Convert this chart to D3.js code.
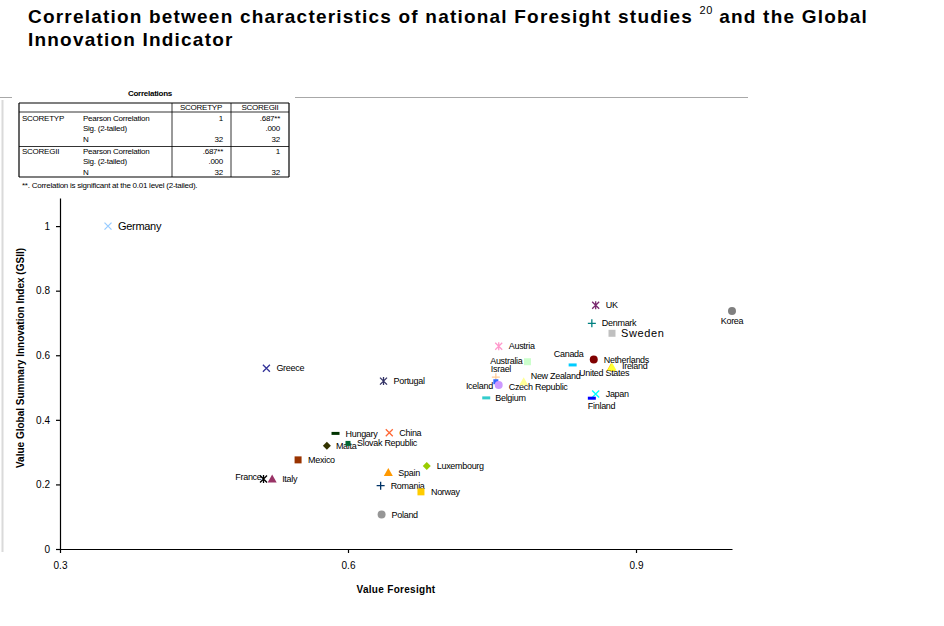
<!DOCTYPE html>
<html>
<head>
<meta charset="utf-8">
<script src="https://cdn.jsdelivr.net/npm/d3@7"></script>
<style>
    body { margin: 0; background: #fff; }
    svg { display: block; font-family: "Liberation Sans", Arial, sans-serif; }
    .axis path, .axis line { stroke: #000; stroke-width: 1.2; }
    .axis text { font-size: 10px; fill: #000; }
    .label { font-size: 9px; fill: #000; letter-spacing: -0.3px; }
    .tbl { font-size: 8px; fill: #000; letter-spacing: -0.25px; }
</style>
</head>
<body>
<div id="chart"></div>
<script>
// ------------------------------------------
//  Data
// ------------------------------------------
const countries = ["Germany", "Greece", "Portugal", "UK", "Korea", "Denmark", "Sweden", "Austria",
    "Australia", "Canada", "Netherlands", "United States", "Ireland", "Israel", "Iceland", "Czech Republic",
    "New Zealand", "Belgium", "Japan", "Finland", "Hungary", "China", "Malta", "Slovak Republic",
    "Mexico", "France", "Italy", "Spain", "Luxembourg", "Romania", "Norway", "Poland"]
const foresight = [0.350, 0.515, 0.637, 0.858, 1.000, 0.854, 0.875, 0.757,
    0.787, 0.834, 0.856, 0.874, 0.875, 0.754, 0.754, 0.757,
    0.783, 0.744, 0.858, 0.854, 0.587, 0.643, 0.578, 0.600,
    0.548, 0.512, 0.521, 0.642, 0.682, 0.634, 0.676, 0.635]
const gsii = [1.000, 0.560, 0.520, 0.755, 0.737, 0.699, 0.668, 0.628,
    0.580, 0.570, 0.587, 0.562, 0.564, 0.532, 0.518, 0.508,
    0.518, 0.468, 0.480, 0.467, 0.358, 0.360, 0.320, 0.327,
    0.276, 0.217, 0.217, 0.237, 0.257, 0.196, 0.177, 0.107]

const xTicks = [0.3, 0.6, 0.9]
const xTickLabels = ["0.3", "0.6", "0.9"]
const yTicks = [0, 0.2, 0.4, 0.6, 0.8, 1]
const yTickLabels = ["0", "0.2", "0.4", "0.6", "0.8", "1"]

// SPSS correlation table
const tableCols = ["SCORETYP", "SCOREGII"]
const tableVars = ["SCORETYP", "SCOREGII"]
const tableStats = ["Pearson Correlation", "Sig. (2-tailed)", "N"]
const tableValues = [
    [["1", ".687**"], ["", ".000"], ["32", "32"]],
    [[".687**", "1"], [".000", ""], ["32", "32"]]
]

// ------------------------------------------
//  Styles (marker look + label placement)
// ------------------------------------------
const markerStyle = {
    "Germany": ["x", "#99ccff"], "Greece": ["x", "#333399"], "Portugal": ["star", "#333366"],
    "UK": ["star", "#7a2a6f"], "Korea": ["circle", "#808080"], "Denmark": ["plus", "#008080"],
    "Sweden": ["square", "#c0c0c0"], "Austria": ["star", "#ff99cc"], "Australia": ["square", "#ccffcc"],
    "Canada": ["dash", "#00ccff"], "Netherlands": ["circle", "#800000"], "United States": ["triangle", "#ffcc00"],
    "Ireland": ["triangle", "#ffff33"], "Israel": ["plus", "#ffcc99"], "Iceland": ["small", "#3366ff"],
    "Czech Republic": ["circle", "#cc99ff"], "New Zealand": ["triangle", "#ffff99"], "Belgium": ["dash", "#33cccc"],
    "Japan": ["x", "#00ffff"], "Finland": ["dash", "#0000ff"], "Hungary": ["dash", "#003300"],
    "China": ["x", "#ff6633"], "Malta": ["diamond", "#333300"], "Slovak Republic": ["small", "#006633"],
    "Mexico": ["square", "#993300"], "France": ["star", "#000000"], "Italy": ["triangle", "#993366"],
    "Spain": ["triangle", "#ff9900"], "Luxembourg": ["diamond", "#99cc00"], "Romania": ["plus", "#003366"],
    "Norway": ["square", "#ffcc00"], "Poland": ["circle", "#969696"]
}
// [dx, dy, anchor, fontSize]
const labelPlacement = {
    "Germany": [10, 0, "start", 11], "Sweden": [9, 0, "start", 11], "Korea": [0, 10, "middle"],
    "Australia": [-5, -1, "end"], "Canada": [-4, -11, "middle"], "Israel": [-5, -8, "start"],
    "Iceland": [-3, 4, "end"], "Czech Republic": [10, 2, "start"], "New Zealand": [7, -6, "start"],
    "Finland": [-4, 7.5, "start"], "United States": [-32, 5, "start"], "Slovak Republic": [9, -1, "start"],
    "France": [-2, -2, "end"], "Belgium": [9, 0, "start"], "Malta": [9, 0, "start"], "Ireland": [10, -1, "start"]
}

function markerPath(type) {
    switch (type) {
        case "x": return "M-3.5,-3.5L3.5,3.5M-3.5,3.5L3.5,-3.5"
        case "star": return "M-3.5,-3.5L3.5,3.5M-3.5,3.5L3.5,-3.5M0,-4L0,4"
        case "plus": return "M-4,0L4,0M0,-4L0,4"
        case "square": return "M-3.5,-3.5h7v7h-7z"
        case "small": return "M-2.5,-2.5h5v5h-5z"
        case "dash": return "M-4,-1.5h8v3h-8z"
        case "diamond": return "M0,-4L4,0L0,4L-4,0z"
        case "triangle": return "M0,-4.5L4.5,3.5L-4.5,3.5z"
        default: return d3.symbol(d3.symbolCircle, 50)()
    }
}

// ------------------------------------------
//  Chart
// ------------------------------------------
function drawChart() {
    const svg = d3.select("#chart").append("svg").attr("width", 944).attr("height", 626)

    // title
    const title = svg.append("text").attr("x", 28).attr("y", 23)
        .attr("font-size", 19).attr("font-weight", "bold").attr("letter-spacing", 1.2)
    title.append("tspan").text("Correlation between characteristics of national Foresight studies ")
    title.append("tspan").attr("font-size", 11).attr("dy", -9).attr("font-weight", "normal").attr("letter-spacing", 0.5).text("20")
    title.append("tspan").attr("dy", 9).text(" and the Global")
    svg.append("text").attr("x", 28).attr("y", 46)
        .attr("font-size", 19).attr("font-weight", "bold").attr("letter-spacing", 1.2)
        .text("Innovation Indicator")

    // frame of the pasted output
    svg.append("line").attr("x1", 295).attr("x2", 748).attr("y1", 97.5).attr("y2", 97.5).attr("stroke", "#a8a8a8")
    svg.append("line").attr("x1", 0).attr("x2", 12).attr("y1", 97.5).attr("y2", 97.5).attr("stroke", "#a8a8a8")
    svg.append("line").attr("x1", 2.5).attr("x2", 2.5).attr("y1", 100).attr("y2", 552).attr("stroke", "#dadada").attr("stroke-width", 2)

    drawTable(svg)

    const x = d3.scaleLinear().domain([0.3, 1.0]).range([60, 732])
    const y = d3.scaleLinear().domain([0, 1.087]).range([549, 198])

    svg.append("g").attr("class", "axis")
        .attr("transform", `translate(0,${y(0)})`)
        .call(d3.axisBottom(x).tickValues(xTicks).tickSize(4).tickSizeOuter(0).tickPadding(9)
            .tickFormat((d, i) => xTickLabels[i]))
    svg.append("g").attr("class", "axis")
        .attr("transform", `translate(${x(0.3)},0)`)
        .call(d3.axisLeft(y).tickValues(yTicks).tickSize(4).tickSizeOuter(0).tickPadding(6)
            .tickFormat((d, i) => yTickLabels[i]))
    svg.selectAll(".axis .domain").attr("stroke-width", 1.4)

    svg.append("text").attr("x", 396).attr("y", 593).attr("text-anchor", "middle")
        .attr("font-size", 10).attr("font-weight", "bold").attr("letter-spacing", 0.3)
        .text("Value Foresight")
    svg.append("text").attr("transform", "translate(24,358) rotate(-90)").attr("text-anchor", "middle")
        .attr("font-size", 10).attr("font-weight", "bold")
        .text("Value Global Summary Innovation Index (GSII)")

    const points = countries.map((c, i) => ({ name: c, fx: foresight[i], gi: gsii[i] }))

    const pt = svg.selectAll(".point").data(points).enter().append("g")
        .attr("class", "point")
        .attr("transform", d => `translate(${x(d.fx)},${y(d.gi)})`)

    pt.append("path")
        .attr("d", d => markerPath(markerStyle[d.name][0]))
        .attr("fill", d => ["x", "star", "plus"].includes(markerStyle[d.name][0]) ? "none" : markerStyle[d.name][1])
        .attr("stroke", d => ["x", "star", "plus"].includes(markerStyle[d.name][0]) ? markerStyle[d.name][1] : "none")
        .attr("stroke-width", 1.3)

    pt.append("text")
        .attr("class", "label")
        .attr("x", d => (labelPlacement[d.name] || [10])[0])
        .attr("y", d => (labelPlacement[d.name] || [10, 0])[1])
        .attr("dy", "0.35em")
        .attr("text-anchor", d => (labelPlacement[d.name] || [10, 0, "start"])[2])
        .style("font-size", d => ((labelPlacement[d.name] || [])[3] || 9) + "px")
        .style("letter-spacing", d => d.name === "Sweden" ? "0.6px" : null)
        .text(d => d.name)
}

function drawTable(svg) {
    const g = svg.append("g")
    g.append("text").attr("class", "tbl").attr("x", 150).attr("y", 95.5).attr("text-anchor", "middle")
        .attr("font-weight", "bold").text("Correlations")

    const left = 19, right = 289, c1 = 172, c2 = 231
    const top = 103, head = 112, mid = 146.5, bottom = 177
    const line = (x1, y1, x2, y2, w) => g.append("line").attr("x1", x1).attr("y1", y1).attr("x2", x2).attr("y2", y2)
        .attr("stroke", "#000").attr("stroke-width", w || 0.8)
    line(left, top, right, top, 1.2)
    line(left, head, right, head)
    line(left, mid, right, mid)
    line(left, bottom, right, bottom, 1.2)
    line(left, top, left, bottom, 1.2)
    line(right, top, right, bottom, 1.2)
    line(c1, top, c1, bottom)
    line(c2, top, c2, bottom)

    tableCols.forEach((c, i) => {
        g.append("text").attr("class", "tbl").attr("x", i ? 260 : 201).attr("y", 110)
            .attr("text-anchor", "middle").text(c)
    })
    const rowY = [[120.5, 131, 141.5], [154, 164, 174.5]]
    tableVars.forEach((v, vi) => {
        g.append("text").attr("class", "tbl").attr("x", 22).attr("y", rowY[vi][0]).text(v)
        tableStats.forEach((s, si) => {
            g.append("text").attr("class", "tbl").attr("x", 83).attr("y", rowY[vi][si]).text(s)
            tableValues[vi][si].forEach((val, ci) => {
                g.append("text").attr("class", "tbl").attr("x", ci ? 280 : 223).attr("y", rowY[vi][si])
                    .attr("text-anchor", "end").text(val)
            })
        })
    })
    g.append("text").attr("class", "tbl").attr("x", 22).attr("y", 188)
        .text("**. Correlation is significant at the 0.01 level (2-tailed).")
}

drawChart()
</script>
</body>
</html>
